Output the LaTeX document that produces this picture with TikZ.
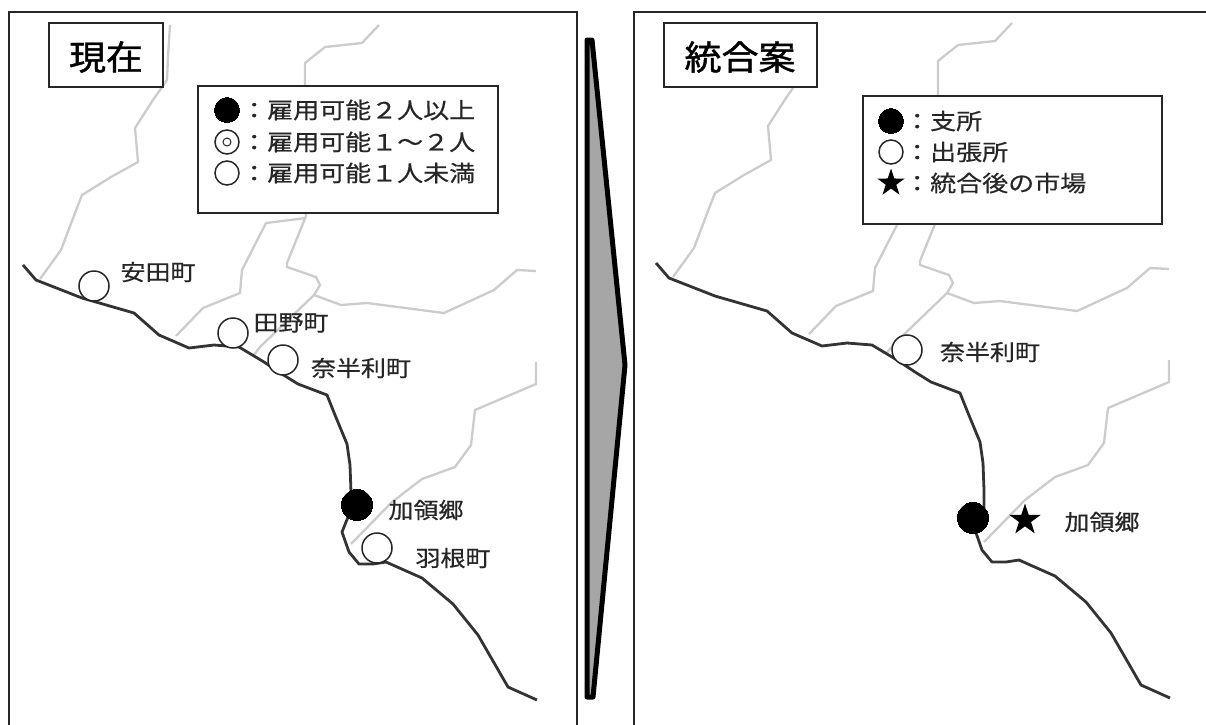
\documentclass[tikz,border=0pt]{standalone}
\usepackage{fontspec}
\setmainfont{Noto Sans CJK JP}
\newfontfamily\medium[FakeBold=0.5]{Noto Sans CJK JP}
\newfontfamily\heavy[FakeBold=1.2]{Noto Sans CJK JP}
\usetikzlibrary{shapes.geometric}
\newcommand\roadmapdraw{%
  \draw[minor] (170,25)--(168,57)--(167,80)--(153,100)--(135,128)--(138,162)--(111,177)--(82,195)--(75,213)--(61,250)--(40,279);
  \draw[minor] (379,25)--(362,43)--(325,47)--(305,63)--(305,100)--(306,216)--(287,263)--(287,267)--(316,277)--(320,285)--(314,295)--(260,347)--(253,356);
  \draw[minor] (306,218)--(266,223)--(242,270)--(240,293)--(203,308)--(176,336);
  \draw[minor] (314,295)--(341,305)--(367,303)--(444,313)--(494,290)--(517,270)--(536,271);
  \draw[minor] (536,362)--(536,384)--(475,410)--(471,445)--(455,467)--(422,479)--(392,502)--(351,544);
  \draw[major] (23,265)--(36,280)--(82,298)--(134,313)--(159,335)--(189,348)--(214,345)--(239,347)--(264,362)--(282,374)--(298,384)--(327,395)--(335,415)--(347,444)--(350,465)--(351,492)--(351,510)--(346,522)--(342,532)--(349,552)--(359,564)--(373,564)--(386,562)--(422,578)--(453,604)--(478,635)--(508,687)--(537,700);
}
\tikzset{
  minor/.style={draw=black!20,line width=2.3pt,line join=round},
  major/.style={draw=black!80,line width=2.8pt,line join=round},
  frame/.style={draw=black!85,line width=1.8pt},
  box/.style={draw=black!85,fill=white,line width=1.5pt},
  lbl/.style={font=\medium\fontsize{25}{25}\selectfont,text=black!85,inner sep=0pt,yscale=.88,transform shape},
  legtxt/.style={font=\medium\fontsize{26}{26}\selectfont,text=black!85,inner sep=0pt,anchor=west,yscale=.86,transform shape},
  ttl/.style={font=\heavy\fontsize{37}{37}\selectfont,text=black,inner sep=0pt,yscale=.92,transform shape},
  site/.style={circle,draw=black!85,fill=white,line width=1.5pt,minimum size=30pt,inner sep=0pt},
  hub/.style={circle,draw=black,fill=black,line width=0pt,minimum size=31pt,inner sep=0pt},
  lsite/.style={site,minimum size=24pt},
  lhub/.style={hub,minimum size=25pt},
  lstar/.style={star,star points=5,star point ratio=2.6,fill=black,draw=none,minimum size=29pt,inner sep=0pt},
}
\begin{document}
\begin{tikzpicture}[x=1pt,y=-1pt]
\useasboundingbox (0,0) rectangle (1206,724);
\fill[white] (0,0) rectangle (1206,724);
% panel frames
\draw[frame] (9,730)--(9,12)--(577,12)--(577,730);
\draw[frame] (634,730)--(634,12)--(1212,12);
% maps
\roadmapdraw
\begin{scope}[shift={(633,-2)}]
\roadmapdraw
\end{scope}
% arrow
\draw[draw=black,fill=black!35,line width=5pt,line join=round] (587,40)--(592,40)--(625,365)--(593,697)--(587,697)--cycle;
% title boxes
\draw[box] (49,23) rectangle (163,87);
\node[ttl] (t1) at (106,57) {現在};
\draw[box] (664,23) rectangle (817,87);
\node[ttl] (t2) at (740,57) {統合案};
% legend left
\draw[box] (198,86) rectangle (498,213);
\node[lhub] (l1a) at (227,110) {};
\node[lsite] (l1b) at (227,142) {};
\node[circle,draw=black!85,line width=1pt,minimum size=8pt,inner sep=0pt] (l1bi) at (227,142) {};
\node[lsite] (l1c) at (227,173) {};
\node[legtxt] (l1at) at (241,110) {：雇用可能２人以上};
\node[legtxt] (l1bt) at (241,142) {：雇用可能１～２人};
\node[legtxt] (l1ct) at (241,173) {：雇用可能１人未満};
% legend right
\draw[box] (863,96) rectangle (1162,224);
\node[lhub] (l2a) at (891,121) {};
\node[lsite] (l2b) at (891,152) {};
\node[lstar] (l2c) at (891,183) {};
\node[legtxt] (l2at) at (904,121) {：支所};
\node[legtxt] (l2bt) at (904,152) {：出張所};
\node[legtxt] (l2ct) at (904,183) {：統合後の市場};
% left sites
\node[site] (s1) at (94,286) {};
\node[site] (s2) at (233,333) {};
\node[site] (s3) at (283,360) {};
\node[hub] (s4) at (357,505) {};
\node[site] (s5) at (377,548) {};
\node[lbl] (n1) at (158,272) {安田町};
\node[lbl] (n2) at (291,323) {田野町};
\node[lbl] (n3) at (361,368) {奈半利町};
\node[lbl] (n4) at (426,510) {加領郷};
\node[lbl] (n5) at (453,558) {羽根町};
% right sites
\node[site] (r1) at (907,350) {};
\node[hub] (r2) at (973,518) {};
\node[lstar,minimum size=33pt] (r3) at (1025,520) {};
\node[lbl] (m1) at (990,352) {奈半利町};
\node[lbl] (m2) at (1102,522) {加領郷};
\end{tikzpicture}
\end{document}
